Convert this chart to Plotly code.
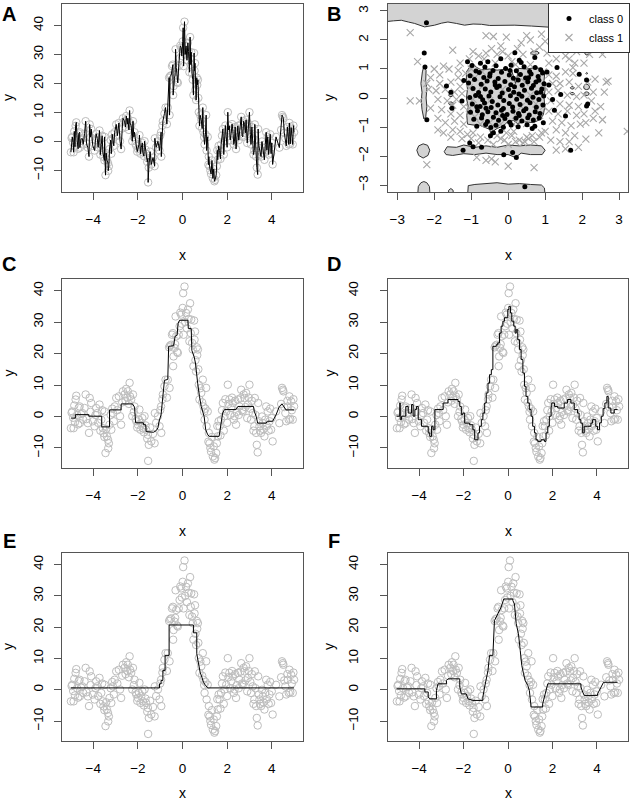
import plotly.graph_objects as go

W, H = 630, 807
FONT = "Liberation Sans, Arial, Helvetica, sans-serif"
AXC = "#555555"
PTC = "#BDBDBD"

# ---------------- shared 1-D regression data (panels A, C, D, E, F) ----------------
pts = [
(-5.0,-3.7),(-4.97,1.2),(-4.94,1.6),(-4.9,-0.4),(-4.88,-3.7),(-4.85,3.5),(-4.82,-1.8),(-4.79,5.4),(-4.76,6.6),
(-4.72,0.5),(-4.68,-2.5),(-4.65,2.8),(-4.61,3.2),(-4.6,-2.1),(-4.55,0.8),(-4.49,1.1),(-4.45,-1.0),(-4.39,2.7),
(-4.34,7.0),(-4.3,-0.8),(-4.24,-2.1),(-4.19,-5.2),(-4.16,5.9),(-4.12,1.5),(-4.09,4.3),(-4.02,-1.5),(-3.94,-3.1),
(-3.9,0.5),(-3.87,2.7),(-3.82,1.1),(-3.78,-2.0),(-3.72,3.8),(-3.68,-4.5),(-3.64,-1.0),(-3.6,2.0),(-3.57,-3.7),
(-3.54,-5.3),(-3.5,-6.5),(-3.49,1.6),(-3.45,-11.6),(-3.42,-4.0),(-3.39,-6.3),(-3.34,-7.4),(-3.33,-10.1),(-3.3,-8.5),
(-3.27,-2.6),(-3.22,0.5),(-3.19,-4.2),(-3.15,2.5),(-3.12,1.1),(-3.08,-1.5),(-3.04,3.2),(-2.97,5.9),(-2.92,2.0),
(-2.85,6.4),(-2.8,0.1),(-2.75,-2.6),(-2.7,4.5),(-2.67,8.0),(-2.6,7.0),(-2.55,5.0),(-2.52,8.8),(-2.47,6.0),
(-2.45,8.0),(-2.4,4.0),(-2.37,10.7),(-2.35,6.4),(-2.3,5.4),(-2.25,0.1),(-2.22,7.0),(-2.18,1.5),(-2.15,3.2),
(-2.1,-0.8),(-2.07,-1.5),(-2.03,-3.5),(-2.0,-2.6),(-1.95,-1.0),(-1.93,2.2),(-1.88,-4.2),(-1.85,-2.1),(-1.8,-0.5),
(-1.78,-3.7),(-1.73,-5.0),(-1.7,0.1),(-1.66,-2.8),(-1.63,-4.2),(-1.58,-7.0),(-1.55,-5.8),(-1.54,-14.1),(-1.51,-9.0),
(-1.45,-3.5),(-1.4,-7.9),(-1.32,-5.5),(-1.25,-8.5),(-1.24,1.1),(-1.18,-2.0),(-1.1,0.1),(-1.03,-3.1),(-1.0,2.0),
(-0.96,3.2),(-0.95,-5.2),(-0.9,5.5),(-0.88,7.0),(-0.81,9.6),(-0.76,11.7),(-0.7,6.0),(-0.66,11.7),(-0.6,22.0),
(-0.58,9.1),(-0.56,22.5),(-0.51,22.8),(-0.47,26.0),(-0.43,26.5),(-0.42,16.0),(-0.4,19.1),(-0.36,21.8),(-0.33,23.0),
(-0.31,31.8),(-0.28,25.5),(-0.24,20.5),(-0.21,20.2),(-0.17,26.0),(-0.13,28.7),(-0.1,33.0),(-0.06,32.4),(-0.03,29.5),
(0.01,34.5),(0.03,39.2),(0.05,26.0),(0.09,41.3),(0.12,30.0),(0.16,32.9),(0.2,28.0),(0.24,34.0),(0.27,31.0),
(0.31,23.9),(0.34,36.0),(0.37,26.5),(0.39,30.8),(0.43,23.4),(0.46,21.3),(0.49,16.0),(0.52,30.5),(0.54,24.4),
(0.56,27.0),(0.58,17.9),(0.61,14.3),(0.64,22.0),(0.66,19.5),(0.69,21.3),(0.71,15.0),(0.73,10.1),(0.76,5.4),
(0.8,9.0),(0.84,7.5),(0.88,4.5),(0.91,11.7),(0.94,3.2),(0.97,1.5),(0.99,-1.0),(1.03,2.5),(1.06,9.1),
(1.08,-3.1),(1.13,1.6),(1.16,-8.0),(1.18,-5.2),(1.21,-8.5),(1.25,-10.0),(1.28,-11.2),(1.32,-6.5),(1.36,-12.7),
(1.4,-9.5),(1.43,-13.7),(1.46,-13.2),(1.51,-11.6),(1.54,-8.5),(1.56,-3.0),(1.58,-6.3),(1.62,-1.5),(1.66,-3.1),
(1.7,-6.0),(1.73,-1.0),(1.77,2.0),(1.81,4.3),(1.85,-4.5),(1.88,0.1),(1.92,5.5),(1.96,1.6),(2.0,-2.0),
(2.03,10.1),(2.06,4.0),(2.1,5.4),(2.14,0.5),(2.18,2.7),(2.22,6.0),(2.25,4.3),(2.3,-1.0),(2.33,0.1),
(2.36,5.0),(2.4,-2.6),(2.44,1.5),(2.48,5.4),(2.52,0.5),(2.55,3.2),(2.6,5.8),(2.63,8.5),(2.67,2.0),
(2.7,1.6),(2.74,7.0),(2.78,5.9),(2.82,3.0),(2.85,7.5),(2.9,-0.5),(2.93,3.8),(2.97,6.0),(3.0,10.1),
(3.04,2.5),(3.07,-1.0),(3.11,5.0),(3.15,1.1),(3.18,-4.5),(3.22,-3.1),(3.24,5.9),(3.27,0.5),(3.3,-5.2),
(3.33,-9.0),(3.37,-11.4),(3.39,4.3),(3.42,-1.5),(3.45,-3.1),(3.48,-4.5),(3.52,-5.2),(3.56,0.0),(3.6,-2.1),
(3.63,-4.0),(3.67,-6.3),(3.71,-1.0),(3.75,3.2),(3.78,-3.0),(3.82,1.6),(3.86,-4.5),(3.9,-1.5),(3.93,2.5),
(3.97,-4.2),(4.0,-0.5),(4.04,-7.9),(4.19,1.6),(4.34,-2.1),(4.42,4.0),(4.46,9.1),(4.5,8.5),(4.52,8.0),
(4.56,3.0),(4.61,1.1),(4.65,-1.5),(4.7,5.0),(4.72,3.2),(4.76,-1.0),(4.79,6.4),(4.83,-0.8),(4.87,4.8),
(4.9,2.0),(4.94,-1.0),(4.97,5.5),(5.0,3.2),
]
data_x = [p[0] for p in pts]
data_y = [p[1] for p in pts]

# ---------------- fitted curves ----------------
fitC = [(-5.0,-0.5),(-4.8,-0.5),(-4.8,0.6),(-4.2,0.6),(-4.2,0.1),(-3.62,0.1),(-3.62,-3.3),(-3.27,-3.3),(-3.27,2.1),
(-2.75,2.1),(-2.75,4.0),(-2.24,4.0),(-2.15,3.0),(-2.1,-2.0),(-1.75,-2.0),(-1.75,-2.6),(-1.65,-2.6),(-1.63,-4.8),
(-1.3,-5.0),(-1.18,-4.5),(-1.1,-3.6),(-1.06,-1.8),(-0.96,0.6),(-0.92,3.5),(-0.85,7.0),(-0.81,11.5),(-0.66,11.8),
(-0.62,22.3),(-0.4,22.5),(-0.33,25.5),(-0.24,25.8),(-0.2,29.5),(-0.13,30.6),(0.24,30.6),(0.26,28.0),(0.39,28.0),
(0.42,21.0),(0.52,19.0),(0.58,17.0),(0.62,14.0),(0.68,10.6),(0.76,6.4),(0.84,3.2),(0.97,0.0),(1.04,-4.2),
(1.13,-5.8),(1.2,-6.3),(1.64,-6.3),(1.68,-4.2),(1.73,-1.0),(1.8,1.1),(1.88,2.2),(2.4,2.2),(2.48,3.2),
(3.18,3.2),(3.22,1.6),(3.3,0.1),(3.37,-2.1),(3.75,-2.1),(3.8,-1.5),(4.04,-1.5),(4.19,0.5),(4.34,3.2),
(4.46,4.0),(4.6,2.8),(4.64,2.1),(5.0,2.1)]

fitD = [(-5.01,0.1),(-4.87,4.3),(-4.85,-1.0),(-4.79,0.1),(-4.64,0.1),(-4.6,3.2),(-4.49,1.1),(-4.34,3.8),
(-4.27,0.1),(-4.19,2.2),(-4.12,3.2),(-4.04,-1.0),(-3.97,-1.0),(-3.89,-3.1),(-3.74,-3.1),(-3.59,-5.2),(-3.52,-6.3),
(-3.44,-3.1),(-3.37,-4.2),(-3.29,2.2),(-3.0,2.2),(-2.92,4.3),(-2.7,5.4),(-2.25,4.8),(-2.17,3.2),(-2.1,0.6),
(-2.03,1.1),(-1.95,-2.1),(-1.8,-2.1),(-1.73,-2.6),(-1.58,-4.2),(-1.5,-7.4),(-1.35,-5.2),(-1.28,-3.1),(-1.2,-1.0),
(-1.13,1.1),(-1.05,4.3),(-0.98,7.5),(-0.9,10.6),(-0.83,13.3),(-0.75,14.9),(-0.68,22.3),(-0.53,22.8),(-0.46,23.4),
(-0.38,26.5),(-0.31,28.7),(-0.23,30.3),(-0.16,31.4),(-0.01,34.0),(0.04,35.0),(0.11,32.9),(0.17,30.3),(0.26,28.7),
(0.32,26.5),(0.37,27.6),(0.44,24.4),(0.52,21.3),(0.59,18.1),(0.67,13.8),(0.74,9.6),(0.81,6.4),(0.89,4.3),
(0.96,2.2),(1.04,0.1),(1.11,-3.1),(1.19,-5.2),(1.26,-7.4),(1.34,-7.9),(1.49,-7.4),(1.64,-7.9),(1.71,-5.2),
(1.79,-3.1),(1.86,0.1),(1.94,3.2),(1.97,4.3),(2.09,3.2),(2.24,2.7),(2.38,2.7),(2.53,4.3),(2.68,5.4),
(2.83,4.3),(2.98,2.2),(3.13,1.1),(3.2,-1.0),(3.28,-2.1),(3.36,-5.2),(3.43,-3.1),(3.58,-3.1),(3.73,-2.1),
(3.8,-1.0),(3.95,-3.1),(4.03,-4.2),(4.12,-2.0),(4.2,0.1),(4.28,2.5),(4.36,4.3),(4.45,6.4),(4.51,2.7),(4.63,1.1),
(4.78,2.2),(4.93,2.2)]

fitE = [(-5.0,0.6),(-1.03,0.6),(-1.03,1.9),(-0.96,1.9),(-0.96,3.0),(-0.88,3.0),(-0.88,6.2),(-0.78,6.2),(-0.78,11.0),
(-0.6,11.0),(-0.6,20.7),(0.49,20.7),(0.49,18.2),(0.64,18.2),(0.64,11.5),(0.72,8.3),(0.79,5.6),(0.87,4.0),
(0.94,2.4),(1.03,1.4),(1.13,0.6),(5.0,0.6)]

fitF = [(-5.01,0.3),(-3.74,0.3),(-3.74,-0.7),(-3.59,-0.7),(-3.59,-2.3),(-3.52,-2.9),(-3.22,-2.9),(-3.22,-0.2),(-3.15,1.9),
(-2.77,1.9),(-2.77,3.0),(-2.7,3.5),(-2.17,3.5),(-2.17,0.9),(-2.1,-1.3),(-1.88,-1.3),(-1.8,-2.9),(-1.58,-3.4),
(-1.13,-3.4),(-1.13,-2.3),(-1.05,0.9),(-0.98,4.0),(-0.9,6.2),(-0.83,11.0),(-0.68,11.0),(-0.61,22.1),(-0.53,23.2),
(-0.38,25.3),(-0.31,26.4),(-0.19,29.0),(0.22,29.0),(0.22,28.5),(0.29,27.4),(0.37,21.1),(0.47,17.9),(0.55,12.6),
(0.62,7.8),(0.7,5.1),(0.77,3.0),(0.89,1.4),(0.96,-0.2),(1.04,-5.5),(1.56,-5.5),(1.56,-4.5),(1.64,-2.3),
(1.74,-0.2),(1.79,1.9),(3.28,1.9),(3.28,0.9),(3.36,-0.7),(3.43,-1.8),(4.03,-1.8),(4.03,-1.3),(4.3,2.4),(4.93,2.4)]

# ---------------- panel B: 2-class data ----------------
class0 = [
(-0.98,1.12),(-0.87,0.93),(-0.63,1.07),(-0.41,0.95),(-0.33,1.11),(-0.07,1.02),(0.08,1.13),(0.22,0.94),(0.43,1.08),(0.58,0.91),(0.73,1.05),(0.88,0.97),
(-1.03,0.77),(-0.78,0.88),(-0.66,0.71),(-0.49,0.84),(-0.27,0.67),(-0.18,0.89),(0.03,0.79),(0.14,0.68),(0.33,0.81),(0.47,0.69),(0.62,0.83),(0.81,0.74),(0.93,0.86),
(-1.07,0.52),(-0.91,0.64),(-0.73,0.47),(-0.57,0.59),(-0.36,0.55),(-0.24,0.41),(-0.09,0.57),(0.07,0.46),(0.27,0.62),(0.38,0.44),(0.53,0.56),(0.68,0.43),(0.83,0.61),(0.97,0.49),
(-0.95,0.33),(-0.8,0.19),(-0.62,0.31),(-0.47,0.21),(-0.31,0.36),(-0.16,0.17),(0.01,0.29),(0.17,0.39),(0.29,0.14),(0.44,0.27),(0.63,0.34),(0.77,0.18),(0.91,0.31),
(-1.04,0.02),(-0.88,0.09),(-0.69,-0.06),(-0.52,0.07),(-0.43,-0.12),(-0.22,0.04),(-0.12,-0.09),(0.06,0.08),(0.23,-0.04),(0.37,0.06),(0.52,-0.08),(0.67,0.03),(0.83,-0.05),(0.96,0.07),
(-0.97,-0.21),(-0.76,-0.29),(-0.64,-0.17),(-0.46,-0.33),(-0.28,-0.24),(-0.13,-0.36),(0.03,-0.19),(0.12,-0.31),(0.32,-0.22),(0.48,-0.37),(0.59,-0.16),(0.76,-0.32),(0.94,-0.24),
(-1.02,-0.49),(-0.83,-0.44),(-0.7,-0.58),(-0.55,-0.47),(-0.33,-0.51),(-0.18,-0.42),(-0.03,-0.57),(0.13,-0.46),(0.28,-0.53),(0.42,-0.44),(0.57,-0.59),(0.73,-0.47),(0.86,-0.53),
(-0.93,-0.73),(-0.72,-0.69),(-0.56,-0.81),(-0.4,-0.66),(-0.26,-0.77),(-0.09,-0.71),(0.04,-0.84),(0.21,-0.7),(0.37,-0.79),(0.53,-0.68),(0.68,-0.76),(0.84,-0.69),
(-0.85,-0.97),(-0.61,-0.91),(-0.47,-1.02),(-0.33,-0.94),(-0.13,-1.01),(0.08,-0.93),(0.27,-0.99),(0.51,-0.92),(0.72,-0.97),
(-0.75,0.05),(0.15,0.2),(-0.35,0.45),(0.55,0.7),(-0.6,-0.35),(0.3,-0.6),(0.75,0.55),(-0.15,-0.6),(0.05,0.95),
(-0.5,0.75),(0.88,0.2),(-0.85,-0.3),
(-0.4,-1.2),(-0.48,-1.3),(-0.2,-1.15),(-0.75,1.2),(-0.55,1.25),(0.3,1.3),(0.35,1.22),
(-2.21,2.59),(-2.27,1.55),(-2.25,1.07),(-2.2,-0.75),(-1.67,0.41),(-1.52,-0.35),(-1.55,0.2),(1.55,-0.62),(1.69,-1.8),
(1.92,0.82),(1.71,1.85),(2.15,-0.21),(2.12,-0.28),(-1.04,-1.55),(-0.95,-1.68),(-0.72,-1.7),(-1.22,-1.8),(-0.12,-1.96),
(0.12,-1.88),(0.22,-2.05),(0.45,-3.06),(0.65,-1.05),(1.25,-0.42),(1.42,0.12),(1.32,1.05),(0.18,1.56),(0.72,1.4),
(-1.1,1.25),(1.1,0.45),(1.2,-0.05),(0.95,-0.85),(-1.2,0.6),(-1.25,-0.1),(1.05,0.9),(-0.2,1.35),(2.12,0.62),
]
class1 = [
(-2.65,2.25),(-1.5,1.65),(-0.95,1.6),(-0.8,1.45),(-0.6,1.55),(-0.45,1.7),(-0.3,1.5),(-0.15,1.6),(0.0,1.45),(-0.05,2.1),
(0.5,2.15),(0.6,2.0),(0.35,1.9),(0.9,2.2),(1.0,1.95),(0.85,1.75),(1.2,1.8),(1.4,1.7),(1.55,1.45),(-0.6,2.15),
(-0.4,2.12),(0.25,1.7),(0.4,1.5),(0.7,1.6),(1.05,1.55),(-1.05,1.35),(-1.3,1.2),(-0.65,1.35),(1.3,1.35),(1.65,1.35),
(1.8,1.2),(-1.75,1.1),(-0.2,1.8),(0.1,1.25),(1.1,1.2),(2.55,1.5),(1.85,1.6),
(-2.45,1.25),(-2.0,1.0),(-1.85,0.8),(-1.6,1.0),(-1.35,0.95),(-2.1,0.7),(-1.85,0.5),(-1.55,0.55),(-1.3,0.4),
(-2.15,0.3),(-1.95,0.25),(-1.7,0.3),(-1.45,0.2),(-1.25,0.15),(-2.4,-0.1),(-2.65,-0.1),(-1.9,-0.05),(-1.65,-0.1),
(-1.4,-0.05),(-1.2,-0.3),(-2.1,-0.35),(-1.8,-0.4),(-1.55,-0.55),(-1.3,-0.6),(-1.9,-0.7),(-1.7,-0.85),(-1.45,-0.8),
(-1.2,-0.9),(-1.9,-1.1),(-1.75,-1.2),(-1.5,-1.1),(-1.3,-1.15),(-1.55,-1.35),(-1.25,-1.4),(-1.1,-1.25),(-1.35,0.7),
(-1.15,0.85),(-1.5,-0.25),(-2.2,0.5),
(1.1,0.8),(1.3,0.75),(1.55,0.9),(1.75,0.85),(2.05,1.2),(1.2,0.5),(1.4,0.5),(1.65,0.55),(1.9,0.4),(2.15,0.55),
(2.35,0.65),(2.65,0.55),(2.7,0.58),(1.1,0.2),(1.35,0.25),(1.6,0.1),(1.85,0.05),(2.05,0.1),(2.3,0.2),(1.15,-0.1),
(1.4,-0.2),(1.65,-0.25),(1.9,-0.3),(2.25,-0.1),(1.1,-0.45),(1.35,-0.55),(1.6,-0.45),(1.85,-0.6),(2.05,-0.55),
(2.3,-0.7),(2.55,-0.75),(1.2,-0.8),(1.45,-0.85),(1.7,-0.95),(1.95,-0.9),(2.1,-0.85),(2.45,-1.2),(3.22,-1.15),
(1.3,-1.1),(1.55,-1.2),(1.8,-1.3),(2.1,-1.42),(1.0,-1.15),(1.15,-1.45),(1.4,-1.5),(1.65,-1.5),(1.55,-1.75),
(1.9,-1.7),(1.3,-1.8),(2.5,-0.3),(2.6,0.2),(1.75,1.05),(2.2,1.5),(2.35,-0.45),
(-0.95,-1.2),(-0.75,-1.35),(-0.55,-1.45),(-0.3,-1.3),(-0.1,-1.45),(0.1,-1.3),(0.3,-1.45),(0.5,-1.35),(0.7,-1.5),
(0.85,-1.35),(-0.8,-1.55),(-0.4,-1.6),(0.0,-1.6),(0.4,-1.55),(0.65,-1.3),(0.45,-1.5),(0.55,-1.4),(-0.6,-2.15),
(-0.45,-2.1),(-0.35,-2.2),(-0.85,-2.05),(0.0,-2.35),(0.7,-2.4),(-2.2,-2.3),(-0.2,-1.4),(0.2,-1.5),(-1.0,-1.4),
(0.9,-1.2),(0.15,-1.15),(-0.05,-1.2),
(-1.0,1.0),(-0.7,0.9),(-0.9,0.7),(-1.05,0.35),(-0.95,-0.05),(-1.05,-0.35),(-0.9,-0.65),(-0.75,-0.9),(-0.5,-0.85),
(-0.2,-0.9),(0.15,-0.9),(0.5,-0.88),(0.85,-0.6),(0.95,-0.3),(0.98,0.4),(0.95,0.9),(0.6,1.15),(0.2,1.15),
(-0.35,1.2),(-0.15,0.3),(0.35,-0.3),(-0.5,-0.1),(0.6,0.1),(-0.7,0.4),(0.45,0.55),(0.2,-0.6),(-0.3,-0.55),(0.75,-0.2),
]

# decision regions predicted as class 0 (boundary polygons)
reg_top = [(-3.4,3.4),(-3.4,2.62),(-3.1,2.66),(-2.89,2.68),(-2.7,2.62),(-2.53,2.57),(-2.26,2.45),(-1.99,2.51),(-1.8,2.58),
(-1.63,2.62),(-1.4,2.57),(-1.18,2.51),(-0.95,2.55),(-0.72,2.54),(-0.5,2.5),(-0.27,2.51),(0.18,2.51),(0.63,2.48),
(1.08,2.45),(1.62,2.4),(2.2,2.4),(3.4,2.4),(3.4,3.4)]
reg_center = [(-1.13,0.9),(-1.05,1.05),(-0.95,1.18),(-0.85,1.05),(-0.72,0.97),(-0.5,1.0),(-0.3,0.96),(-0.1,0.99),
(0.09,0.97),(0.15,0.75),(0.2,0.5),(0.25,0.8),(0.27,1.02),(0.5,1.0),(0.7,1.04),(0.9,1.02),(0.99,0.9),(0.97,0.6),
(1.0,0.3),(0.97,0.0),(0.99,-0.3),(0.95,-0.58),(0.85,-0.75),(0.68,-0.85),(0.45,-0.82),(0.25,-0.88),(0.15,-0.78),
(0.0,-0.8),(-0.08,-0.9),(-0.2,-1.0),(-0.3,-1.05),(-0.38,-1.12),(-0.4,-1.27),(-0.46,-1.27),(-0.5,-1.08),(-0.62,-1.02),
(-0.75,-0.95),(-0.95,-0.93),(-1.1,-0.9),(-1.12,-0.6),(-1.08,-0.3),(-1.13,0.0),(-1.1,0.3),(-1.13,0.6)]
reg_band = [(-1.73,-1.85),(-1.65,-1.68),(-1.4,-1.7),(-1.2,-1.62),(-0.9,-1.7),(-0.6,-1.65),(-0.3,-1.7),(0.0,-1.62),
(0.3,-1.65),(0.6,-1.62),(0.9,-1.65),(1.0,-1.8),(0.92,-1.95),(0.6,-1.95),(0.35,-1.9),(0.2,-2.05),(0.0,-1.95),
(-0.3,-1.95),(-0.6,-1.9),(-0.9,-1.95),(-1.2,-1.92),(-1.5,-1.98),(-1.68,-1.95)]
reg_bottom = [(-1.1,-3.4),(-1.08,-3.02),(-0.9,-2.98),(-0.6,-2.95),(-0.3,-2.92),(0.0,-2.97),(0.3,-2.95),(0.6,-2.98),
(0.9,-3.0),(0.98,-3.1),(1.0,-3.4)]
reg_vert = [(-2.28,1.1),(-2.22,0.95),(-2.23,0.6),(-2.2,0.3),(-2.22,0.0),(-2.2,-0.3),(-2.23,-0.65),(-2.28,-0.72),
(-2.33,-0.4),(-2.35,-0.1),(-2.33,0.2),(-2.36,0.5),(-2.32,0.9)]
reg_left = [(-2.47,-1.8),(-2.42,-1.65),(-2.3,-1.58),(-2.18,-1.63),(-2.12,-1.8),(-2.17,-1.98),(-2.3,-2.07),(-2.42,-1.98)]
reg_bl1 = [(-2.45,-3.4),(-2.43,-3.05),(-2.36,-2.92),(-2.28,-2.88),(-2.2,-2.92),(-2.13,-3.05),(-2.11,-3.4)]
reg_bl2 = [(-1.62,-3.4),(-1.61,-3.18),(-1.55,-3.12),(-1.49,-3.18),(-1.48,-3.4)]
reg_e1 = [(0.6,1.55),(0.66,1.61),(0.78,1.61),(0.84,1.55),(0.78,1.49),(0.66,1.49)]
reg_e2 = [(2.07,1.55),(2.09,1.6),(2.13,1.62),(2.17,1.6),(2.19,1.55),(2.17,1.5),(2.13,1.48),(2.09,1.5)]
reg_e3 = [(2.04,0.38),(2.07,0.46),(2.13,0.48),(2.18,0.44),(2.2,0.38),(2.18,0.31),(2.12,0.29),(2.06,0.31)]
reg_e4 = [(2.05,0.15),(2.08,0.2),(2.13,0.21),(2.18,0.18),(2.19,0.13),(2.15,0.09),(2.09,0.09)]
reg_e5 = [(1.68,0.35),(1.71,0.39),(1.76,0.39),(1.79,0.35),(1.76,0.31),(1.71,0.31)]
reg_e6 = [(1.68,0.15),(1.71,0.19),(1.76,0.19),(1.79,0.15),(1.76,0.11),(1.71,0.11)]
reg_e7 = [(-1.61,0.1),(-1.58,0.15),(-1.52,0.15),(-1.49,0.1),(-1.52,0.05),(-1.58,0.05)]
reg_e8 = [(-1.61,-0.19),(-1.58,-0.14),(-1.52,-0.14),(-1.49,-0.19),(-1.52,-0.24),(-1.58,-0.24)]
reg_e9 = [(2.1,0.85),(2.12,0.88),(2.15,0.85),(2.12,0.82)]
regions = [reg_top, reg_center, reg_band, reg_bottom, reg_vert, reg_left, reg_bl1, reg_bl2,
           reg_e1, reg_e2, reg_e3, reg_e4, reg_e5, reg_e6, reg_e7, reg_e8, reg_e9]

# ---------------- layout geometry (pixels) ----------------
panels = {
    "A": dict(x=(62, 303), y=(4, 192)),
    "B": dict(x=(388, 628), y=(4, 192)),
    "C": dict(x=(62, 303), y=(279, 468)),
    "D": dict(x=(388, 628), y=(279, 468)),
    "E": dict(x=(62, 303), y=(553, 741)),
    "F": dict(x=(388, 628), y=(553, 741)),
}
order = ["A", "B", "C", "D", "E", "F"]

fig = go.Figure()

def axn(i):
    return ("x" if i == 1 else f"x{i}"), ("y" if i == 1 else f"y{i}")

def split_xy(p):
    return [q[0] for q in p], [q[1] for q in p]

for i, key in enumerate(order, start=1):
    xa, ya = axn(i)
    if key == "B":
        for reg in regions:
            rx, ry = split_xy(reg)
            fig.add_trace(go.Scatter(x=rx + [rx[0]], y=ry + [ry[0]], mode="lines", fill="toself",
                                     fillcolor="#D3D3D3", line=dict(color="#333333", width=1),
                                     xaxis=xa, yaxis=ya, showlegend=False, hoverinfo="skip"))
        fig.add_trace(go.Scatter(x=[p[0] for p in class1], y=[p[1] for p in class1], mode="markers",
                                 marker=dict(symbol="x-thin", size=7, line=dict(color="#A8A8A8", width=1.1)),
                                 name="class 1", legendrank=2, xaxis=xa, yaxis=ya))
        fig.add_trace(go.Scatter(x=[p[0] for p in class0], y=[p[1] for p in class0], mode="markers",
                                 marker=dict(symbol="circle", size=5, color="black"),
                                 name="class 0", legendrank=1, xaxis=xa, yaxis=ya))
        continue
    fig.add_trace(go.Scatter(x=data_x, y=data_y, mode="markers",
                             marker=dict(symbol="circle-open", size=7.5, color=PTC, line=dict(width=1)),
                             xaxis=xa, yaxis=ya, showlegend=False))
    shape = "linear"
    if key == "A":
        srt = sorted(zip(data_x, data_y))
        lx, ly = [s[0] for s in srt], [s[1] for s in srt]
    else:
        lx, ly = split_xy({"C": fitC, "D": fitD, "E": fitE, "F": fitF}[key])
        if key == "D":
            shape = "hv"
    fig.add_trace(go.Scatter(x=lx, y=ly, mode="lines", line=dict(color="black", width=1, shape=shape),
                             xaxis=xa, yaxis=ya, showlegend=False))

layout = dict(width=W, height=H, margin=dict(l=0, r=0, t=0, b=0),
              paper_bgcolor="white", plot_bgcolor="white",
              font=dict(family=FONT, size=13, color="black"),
              legend=dict(x=1.0, y=1 - 3 / H, xanchor="right", yanchor="top", bgcolor="white",
                          bordercolor="#333333", borderwidth=1, font=dict(size=11, family=FONT),
                          itemwidth=30, tracegroupgap=0))

common = dict(showline=True, mirror=True, linecolor=AXC, linewidth=1, ticks="outside", ticklen=7,
              tickcolor=AXC, tickwidth=1, showgrid=False, zeroline=False,
              tickfont=dict(size=13.5, family=FONT, color="black"))

annotations = []
for i, key in enumerate(order, start=1):
    p = panels[key]
    l, r = p["x"]; t, b = p["y"]
    xk = "xaxis" if i == 1 else f"xaxis{i}"
    yk = "yaxis" if i == 1 else f"yaxis{i}"
    xa, ya = axn(i)
    if key == "B":
        xr, yr = [-3.25, 3.24], [-3.24, 3.24]
        xt, yt = [-3, -2, -1, 0, 1, 2, 3], [-3, -2, -1, 0, 1, 2, 3]
    else:
        xr = [-5.4, 5.4]
        yr = [-17.4, 47.4] if key == "A" else [-16.36, 43.7]
        xt, yt = [-4, -2, 0, 2, 4], [-10, 0, 10, 20, 30, 40]
    ystand = {"D": 17, "F": 17, "B": 7}.get(key, 6)
    layout[xk] = dict(common, domain=[l / W, r / W], range=xr, tickvals=xt, anchor=ya,
                      ticklabelstandoff=8)
    layout[yk] = dict(common, domain=[1 - b / H, 1 - t / H], range=yr, tickvals=yt, anchor=xa,
                      tickangle=-90, ticklabelstandoff=ystand)
    cx = (l + r) / 2
    cy = (t + b) / 2
    xtitle_y = 255 if key in ("A", "B") else (531 if key in ("C", "D") else 793)
    ytitle_x = 8 if l < 200 else 329
    annotations.append(dict(text="x", x=cx / W, y=1 - xtitle_y / H, xref="paper", yref="paper",
                            showarrow=False, xanchor="center", yanchor="middle", font=dict(size=14)))
    annotations.append(dict(text="y", x=ytitle_x / W, y=1 - cy / H, xref="paper", yref="paper",
                            showarrow=False, xanchor="center", yanchor="middle", textangle=-90,
                            font=dict(size=14)))
    lx_ = 9 if l < 200 else 334
    ly_ = {"A": 14, "B": 14, "C": 264, "D": 264, "E": 541, "F": 541}[key]
    annotations.append(dict(text=f"<b>{key}</b>", x=lx_ / W, y=1 - ly_ / H, xref="paper", yref="paper",
                            showarrow=False, xanchor="center", yanchor="middle",
                            font=dict(size=20, family=FONT)))

layout["annotations"] = annotations
fig.update_layout(**layout)
fig.write_html("out.html", config={"displayModeBar": False},
               post_script="document.body.style.margin='0px';document.body.style.padding='0px';"
                           "document.documentElement.style.overflow='hidden';")
